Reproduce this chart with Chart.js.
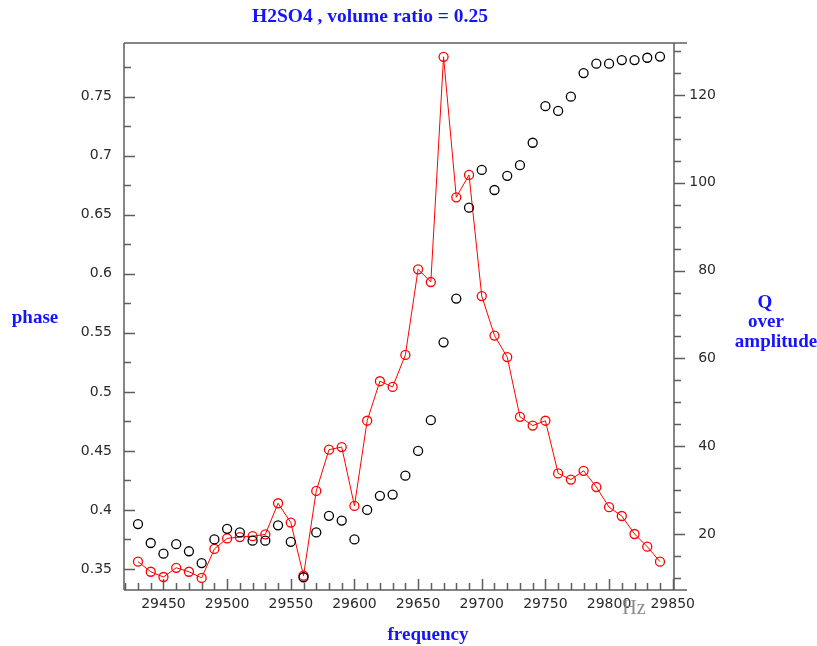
<!DOCTYPE html>
<html>
<head>
<meta charset="utf-8">
<script src="https://cdn.jsdelivr.net/npm/chart.js@4"></script>
<style>
  html, body { margin: 0; padding: 0; background: #fff; }
  canvas { display: block; }
</style>
</head>
<body>
<canvas id="c" width="817" height="646"></canvas>
<script>
// Frequency sweep (Hz)
const frequency = [
  29430, 29440, 29450, 29460, 29470, 29480, 29490, 29500, 29510, 29520,
  29530, 29540, 29550, 29560, 29570, 29580, 29590, 29600, 29610, 29620,
  29630, 29640, 29650, 29660, 29670, 29680, 29690, 29700, 29710, 29720,
  29730, 29740, 29750, 29760, 29770, 29780, 29790, 29800, 29810, 29820,
  29830, 29840
];

// Phase (left axis)
const phase = [
  0.388, 0.372, 0.363, 0.371, 0.365, 0.355, 0.375, 0.384, 0.381, 0.374,
  0.374, 0.387, 0.373, 0.343, 0.381, 0.395, 0.391, 0.375, 0.400, 0.412,
  0.413, 0.429, 0.450, 0.476, 0.542, 0.579, 0.656, 0.688, 0.671, 0.683,
  0.692, 0.711, 0.742, 0.738, 0.750, 0.770, 0.778, 0.778, 0.781, 0.781,
  0.783, 0.784
];

// Q over amplitude (right axis)
const qOverAmplitude = [
  13.7, 11.4, 10.2, 12.3, 11.4, 10.0, 16.6, 19.0, 19.3, 19.5,
  19.9, 27.0, 22.6, 10.5, 29.8, 39.2, 39.8, 26.4, 45.8, 54.8,
  53.5, 60.8, 80.3, 77.4, 128.7, 96.7, 101.8, 74.2, 65.2, 60.3,
  46.7, 44.7, 45.8, 33.8, 32.4, 34.4, 30.7, 26.1, 24.1, 20.0,
  17.1, 13.7
];

// Labelled tick values
const freqTicks  = [29450, 29500, 29550, 29600, 29650, 29700, 29750, 29800, 29850];
const phaseTicks = [0.35, 0.4, 0.45, 0.5, 0.55, 0.6, 0.65, 0.7, 0.75];
const qTicks     = [20, 40, 60, 80, 100, 120];

const AXIS_COLOR = '#5e5e5e';
const LABEL_BLUE = '#1414ff';
const TICK_FONT = { family: 'DejaVu Sans', size: 14 };

// Axis frame, inner/outer tick marks and the free-standing captions
const framePlugin = {
  id: 'frame',
  beforeDatasetsDraw(chart) {
    const { ctx, chartArea: a, scales } = chart;
    ctx.save();
    ctx.strokeStyle = AXIS_COLOR;
    ctx.lineWidth = 1.5;
    ctx.beginPath();
    ctx.moveTo(a.left, a.top);  ctx.lineTo(a.left, a.bottom);
    ctx.moveTo(a.right, a.top); ctx.lineTo(a.right, a.bottom);
    ctx.moveTo(a.left, a.top);  ctx.lineTo(a.right + 13, a.top);
    ctx.moveTo(a.left, a.bottom); ctx.lineTo(a.right + 13, a.bottom);
    ctx.stroke();

    ctx.beginPath();
    // frequency ticks, pointing up into the plot
    const sx = scales.x;
    for (let v = 29420; v <= 29850; v += 10) {
      const px = Math.round(sx.getPixelForValue(v)) + 0.5;
      const len = v % 50 === 0 ? 11 : 7;
      ctx.moveTo(px, a.bottom); ctx.lineTo(px, a.bottom - len);
    }
    // phase ticks, pointing right into the plot
    const sl = scales.yPhase;
    for (let i = 14; i <= 31; i++) {
      const v = i * 0.025;
      if (v < sl.min || v > sl.max) continue;
      const py = Math.round(sl.getPixelForValue(v)) + 0.5;
      const len = i % 2 === 0 ? 11 : 7;
      ctx.moveTo(a.left, py); ctx.lineTo(a.left + len, py);
    }
    // Q ticks, pointing outward
    const sr = scales.yQ;
    for (let v = 10; v <= 130; v += 5) {
      if (v < sr.min || v > sr.max) continue;
      const py = Math.round(sr.getPixelForValue(v)) + 0.5;
      const len = v % 20 === 0 ? 11 : 7;
      ctx.moveTo(a.right, py); ctx.lineTo(a.right + len, py);
    }
    ctx.stroke();
    ctx.restore();
  },
  afterDraw(chart) {
    const { ctx } = chart;
    ctx.save();
    ctx.fillStyle = LABEL_BLUE;
    ctx.textAlign = 'center';
    ctx.textBaseline = 'middle';
    ctx.font = 'bold 19.5px "Liberation Serif"';
    ctx.fillText('H2SO4 , volume ratio = 0.25', 370, 17);
    ctx.font = 'bold 19px "Liberation Serif"';
    ctx.fillText('phase', 35, 318);
    ctx.fillText('frequency', 428, 635);
    ctx.fillText('Q', 765, 303);
    ctx.fillText('over', 766, 322);
    ctx.fillText('amplitude', 776, 342);
    ctx.fillStyle = '#8a8a8a';
    ctx.font = '20px "Liberation Serif"';
    ctx.fillText('Hz', 634, 609);
    ctx.restore();
  }
};

const marker = {
  pointStyle: 'circle',
  pointRadius: 4.5,
  pointHoverRadius: 4.5,
  pointBorderWidth: 1.3,
  pointBackgroundColor: 'rgba(0,0,0,0)'
};

new Chart(document.getElementById('c'), {
  type: 'scatter',
  data: {
    datasets: [
      {
        label: 'phase',
        data: frequency.map((f, i) => ({ x: f, y: phase[i] })),
        yAxisID: 'yPhase',
        showLine: false,
        borderColor: '#000',
        pointBorderColor: '#000',
        ...marker
      },
      {
        label: 'Q over amplitude',
        data: frequency.map((f, i) => ({ x: f, y: qOverAmplitude[i] })),
        yAxisID: 'yQ',
        showLine: true,
        borderColor: '#ff0000',
        borderWidth: 1,
        pointBorderColor: '#ff0000',
        tension: 0,
        ...marker
      }
    ]
  },
  options: {
    responsive: false,
    devicePixelRatio: 1,
    animation: false,
    layout: { padding: { top: 43, left: 0, right: 101, bottom: 0 } },
    plugins: {
      legend: { display: false },
      title: { display: false },
      tooltip: { enabled: false }
    },
    scales: {
      x: {
        type: 'linear',
        position: 'bottom',
        min: 29419,
        max: 29851,
        grid: { display: false, drawTicks: false },
        border: { display: false },
        afterBuildTicks: s => { s.ticks = freqTicks.map(v => ({ value: v })); },
        afterFit: s => { s.height = 56; },
        ticks: {
          autoSkip: false, maxRotation: 0, padding: 6,
          color: '#2a2a2a', font: TICK_FONT,
          callback: v => String(v)
        }
      },
      yPhase: {
        type: 'linear',
        position: 'left',
        min: 0.3322,
        max: 0.7955,
        grid: { display: false, drawTicks: false },
        border: { display: false },
        afterBuildTicks: s => { s.ticks = phaseTicks.map(v => ({ value: v })); },
        afterFit: s => { s.width = 124; },
        ticks: {
          autoSkip: false, padding: 12,
          color: '#2a2a2a', font: TICK_FONT,
          callback: v => String(v)
        }
      },
      yQ: {
        type: 'linear',
        position: 'right',
        min: 7.24,
        max: 131.85,
        grid: { display: false, drawTicks: false },
        border: { display: false },
        afterBuildTicks: s => { s.ticks = qTicks.map(v => ({ value: v })); },
        afterFit: s => { s.width = 42; },
        ticks: {
          autoSkip: false, padding: 0, crossAlign: 'far',
          color: '#2a2a2a', font: TICK_FONT,
          callback: v => String(v)
        }
      }
    }
  },
  plugins: [framePlugin]
});
</script>
</body>
</html>
